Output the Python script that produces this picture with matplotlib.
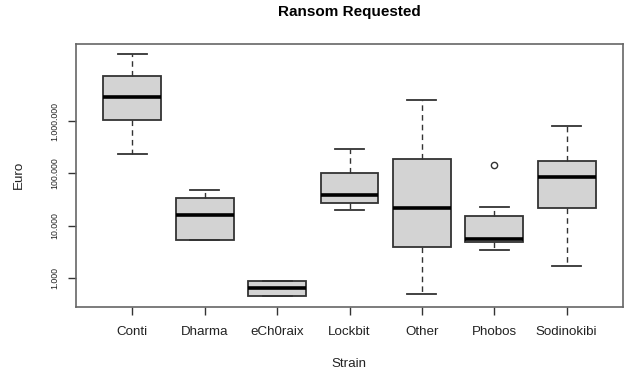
import numpy as np
import matplotlib.pyplot as plt
from matplotlib.ticker import FixedLocator, NullLocator

strains = ['Conti', 'Dharma', 'eCh0raix', 'Lockbit', 'Other', 'Phobos', 'Sodinokibi']
# five-number summaries in euro
whisker_lo = [238000, 5250, 452, 19800, 500, 3400, 1740]
q1 = [1060000, 5250, 452, 27000, 4000, 4900, 22200]
median = [2910000, 15800, 641, 38000, 22200, 5680, 85000]
q3 = [7230000, 33500, 885, 103000, 188000, 15400, 174000]
whisker_hi = [19000000, 47500, 885, 295000, 2480000, 23200, 794000]
outliers = [[], [], [], [], [], [144000], []]

plt.rcParams['font.family'] = ['Liberation Sans', 'DejaVu Sans']
txt = '#222222'

fig = plt.figure(figsize=(6.26, 3.75), dpi=100)
ax = fig.add_axes([76 / 626, 1 - 306.7 / 375, 547 / 626, 262.7 / 375])

stats = []
for i, name in enumerate(strains):
    stats.append(dict(label=name, whislo=whisker_lo[i], q1=q1[i], med=median[i],
                      q3=q3[i], whishi=whisker_hi[i], fliers=outliers[i]))

ax.bxp(stats, positions=range(1, len(strains) + 1), widths=0.8,
       patch_artist=True, showcaps=True,
       boxprops=dict(facecolor='#d3d3d3', edgecolor='#333333', linewidth=1.3),
       medianprops=dict(color='black', linewidth=2.6, solid_capstyle='butt'),
       whiskerprops=dict(color='#333333', linewidth=1.0, linestyle=(0, (4, 3))),
       capprops=dict(color='#333333', linewidth=1.3),
       capwidths=0.4,
       flierprops=dict(marker='o', markersize=4.5, markerfacecolor='none',
                       markeredgecolor='#333333', markeredgewidth=1.0))

ax.set_yscale('log')
ax.set_ylim(10 ** 2.456, 10 ** 7.47)
ax.set_xlim(0.22, 7.78)
yt = [1000, 10000, 100000, 1000000]
ax.yaxis.set_major_locator(FixedLocator(yt))
ax.yaxis.set_minor_locator(NullLocator())
ax.set_yticklabels(['1.000', '10.000', '100.000', '1.000.000'], rotation=90,
                   va='center', fontsize=6.3, color=txt)
ax.set_xticks(range(1, len(strains) + 1))
ax.set_xticklabels(strains, fontsize=9.6, color=txt)
ax.tick_params(axis='x', length=5.8, width=1.0, color='#333333', pad=8)
ax.tick_params(axis='y', length=5.8, width=1.0, color='#333333', pad=6)

for s in ax.spines.values():
    s.set_color('#666666')
    s.set_linewidth(1.2)

fig.text(349 / 626, 1 - 12 / 375, 'Ransom Requested', ha='center', va='center',
         fontsize=11, fontweight='bold', color='black')
fig.text(349 / 626, 1 - 364 / 375, 'Strain', ha='center', va='center',
         fontsize=9.6, color=txt)
fig.text(19 / 626, 1 - 175 / 375, 'Euro', ha='center', va='center',
         rotation=90, fontsize=9.6, color=txt)

fig.savefig('out.png', dpi=100)
